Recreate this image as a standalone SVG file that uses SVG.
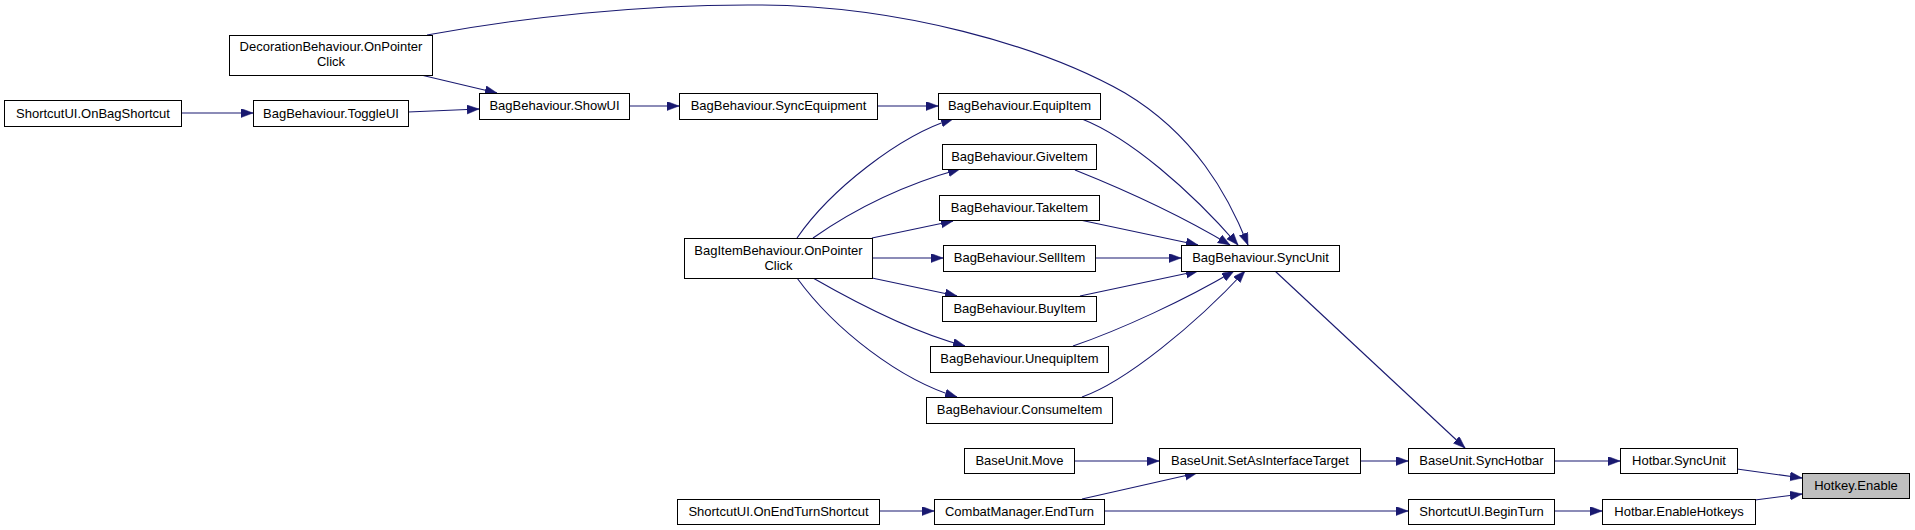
<svg xmlns="http://www.w3.org/2000/svg" width="1915" height="530" viewBox="0 0 1915 530">
<style>
.n rect{fill:#fff;stroke:#000;stroke-width:1}
.n text{font-family:"Liberation Sans",Arial,sans-serif;font-size:13px;fill:#000;text-anchor:middle}
#n23 rect{fill:#bfbfbf}
.e path{fill:none;stroke:#191970;stroke-width:1.1}
</style>
<defs>
<marker id="ah" markerUnits="userSpaceOnUse" markerWidth="13" markerHeight="10" refX="12" refY="4.5" orient="auto">
<path d="M0,0 L12,4.5 L0,9 z" fill="#191970" stroke="#191970" stroke-width="0.5"/>
</marker>
</defs>
<rect width="1915" height="530" fill="#fff"/>
<g id="edges" class="e" marker-end="url(#ah)">
<path d="M181,113 L253,113"/>
<path d="M408,112 L479,109"/>
<path d="M421,75 L497,93"/>
<path d="M427,35 C520,18 640,4 760,5 C900,6 1040,45 1125,93 C1195,135 1228,195 1248,245"/>
<path d="M629,106 L679,106"/>
<path d="M877,106 L938,106"/>
<path d="M797,238 C830,190 900,135 953,119"/>
<path d="M813,238 C860,205 910,183 960,169"/>
<path d="M872,238 L953,221"/>
<path d="M872,258 L943,258"/>
<path d="M872,278 L957,296"/>
<path d="M813,278 C860,305 915,333 965,346"/>
<path d="M797,278 C835,330 900,380 957,397"/>
<path d="M1082,119 C1130,138 1190,190 1238,245"/>
<path d="M1075,170 C1120,188 1180,215 1230,245"/>
<path d="M1080,220 L1198,245"/>
<path d="M1095,258 L1181,258"/>
<path d="M1080,296 L1198,271"/>
<path d="M1073,346 C1120,330 1185,300 1234,271"/>
<path d="M1082,397 C1125,382 1195,325 1245,271"/>
<path d="M1275,271 L1465,448"/>
<path d="M1074,461 L1159,461"/>
<path d="M1082,499 L1197,473"/>
<path d="M1360,461 L1408,461"/>
<path d="M1554,461 L1620,461"/>
<path d="M879,511 L934,511"/>
<path d="M1104,511 L1408,511"/>
<path d="M1554,511 L1602,511"/>
<path d="M1737,469 L1802,478"/>
<path d="M1755,500 L1802,494"/>
</g>
<g id="n1" class="n"><rect x="4.5" y="100.5" width="177" height="26"/><text x="93" y="117.5">ShortcutUI.OnBagShortcut</text></g>
<g id="n2" class="n"><rect x="253.5" y="100.5" width="155" height="26"/><text x="331" y="117.5">BagBehaviour.ToggleUI</text></g>
<g id="n3" class="n"><rect x="229.5" y="35.5" width="203" height="40"/><text x="331" y="51">DecorationBehaviour.OnPointer</text><text x="331" y="66">Click</text></g>
<g id="n4" class="n"><rect x="479.5" y="93.5" width="150" height="26"/><text x="554.5" y="110">BagBehaviour.ShowUI</text></g>
<g id="n5" class="n"><rect x="679.5" y="93.5" width="198" height="26"/><text x="778.5" y="110">BagBehaviour.SyncEquipment</text></g>
<g id="n6" class="n"><rect x="938.5" y="93.5" width="162" height="26"/><text x="1019.5" y="110">BagBehaviour.EquipItem</text></g>
<g id="n7" class="n"><rect x="942.5" y="144.5" width="154" height="25"/><text x="1019.5" y="161">BagBehaviour.GiveItem</text></g>
<g id="n8" class="n"><rect x="939.5" y="195.5" width="160" height="25"/><text x="1019.5" y="212">BagBehaviour.TakeItem</text></g>
<g id="n9" class="n"><rect x="684.5" y="238.5" width="188" height="40"/><text x="778.5" y="255">BagItemBehaviour.OnPointer</text><text x="778.5" y="269.5">Click</text></g>
<g id="n10" class="n"><rect x="943.5" y="245.5" width="152" height="26"/><text x="1019.5" y="262">BagBehaviour.SellItem</text></g>
<g id="n11" class="n"><rect x="1181.5" y="245.5" width="158" height="26"/><text x="1260.5" y="262">BagBehaviour.SyncUnit</text></g>
<g id="n12" class="n"><rect x="942.5" y="296.5" width="154" height="25"/><text x="1019.5" y="313">BagBehaviour.BuyItem</text></g>
<g id="n13" class="n"><rect x="930.5" y="346.5" width="178" height="26"/><text x="1019.5" y="363">BagBehaviour.UnequipItem</text></g>
<g id="n14" class="n"><rect x="926.5" y="397.5" width="186" height="26"/><text x="1019.5" y="414">BagBehaviour.ConsumeItem</text></g>
<g id="n15" class="n"><rect x="964.5" y="448.5" width="110" height="25"/><text x="1019.5" y="465">BaseUnit.Move</text></g>
<g id="n16" class="n"><rect x="1159.5" y="448.5" width="201" height="25"/><text x="1260" y="465">BaseUnit.SetAsInterfaceTarget</text></g>
<g id="n17" class="n"><rect x="1408.5" y="448.5" width="146" height="25"/><text x="1481.5" y="465">BaseUnit.SyncHotbar</text></g>
<g id="n18" class="n"><rect x="1620.5" y="448.5" width="117" height="25"/><text x="1679" y="465">Hotbar.SyncUnit</text></g>
<g id="n19" class="n"><rect x="677.5" y="499.5" width="202" height="25"/><text x="778.5" y="516">ShortcutUI.OnEndTurnShortcut</text></g>
<g id="n20" class="n"><rect x="934.5" y="499.5" width="170" height="25"/><text x="1019.5" y="516">CombatManager.EndTurn</text></g>
<g id="n21" class="n"><rect x="1408.5" y="499.5" width="146" height="25"/><text x="1481.5" y="516">ShortcutUI.BeginTurn</text></g>
<g id="n22" class="n"><rect x="1602.5" y="499.5" width="153" height="25"/><text x="1679" y="516">Hotbar.EnableHotkeys</text></g>
<g id="n23" class="n"><rect x="1802.5" y="473.5" width="107" height="25"/><text x="1856" y="490">Hotkey.Enable</text></g>
</svg>
